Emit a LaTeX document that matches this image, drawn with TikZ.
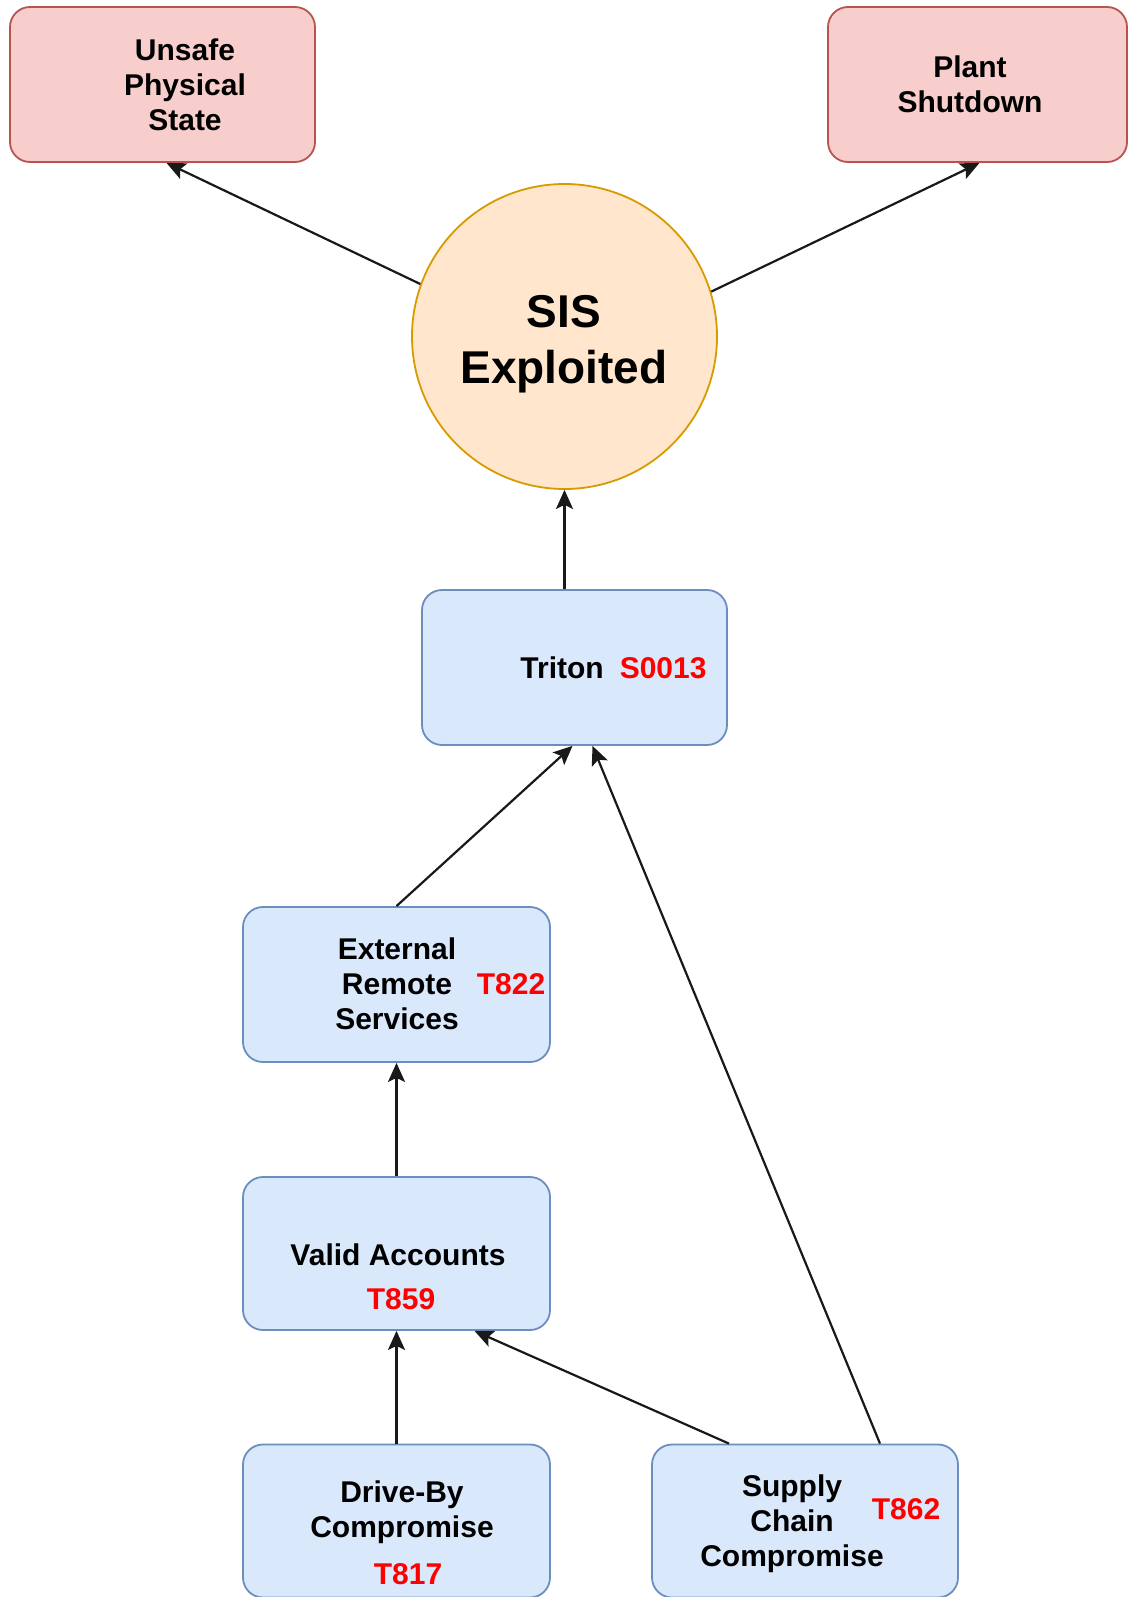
\documentclass[tikz,border=0pt]{standalone}
\usepackage{fontspec}
\setmainfont{Liberation Sans}
\usetikzlibrary{arrows.meta}
\definecolor{redfill}{HTML}{F8CECC}
\definecolor{redline}{HTML}{B85450}
\definecolor{bluefill}{HTML}{DAE8FC}
\definecolor{blueline}{HTML}{6C8EBF}
\definecolor{orfill}{HTML}{FFE6CC}
\definecolor{orline}{HTML}{D79B00}
\definecolor{idred}{HTML}{FF0000}
\begin{document}
\begin{tikzpicture}[x=1pt,y=-1pt,
  boxbase/.style={draw, rectangle, rounded corners=20pt, line width=1.8pt, inner sep=0pt},
  redbox/.style={boxbase, draw=redline, fill=redfill},
  bluebox/.style={boxbase, draw=blueline, fill=bluefill},
  lbl/.style={inner sep=0pt, align=center, font=\bfseries\fontsize{30}{35}\selectfont},
  idlbl/.style={inner sep=0pt, text=idred, font=\bfseries\fontsize{30}{35}\selectfont},
  edge/.style={draw=black!90, line width=2.2pt, -{Stealth[length=19pt,width=17pt,inset=4pt]}}
]
\useasboundingbox (0,0) rectangle (1128,1597);
\fill[white] (0,0) rectangle (1128,1597);

% boxes
\node[redbox, minimum width=305pt, minimum height=155pt] (unsafe) at (162.5,84.5) {};
\node[redbox, minimum width=299pt, minimum height=155pt] (plant) at (977.5,84.5) {};
\node[circle, draw=orline, fill=orfill, line width=1.8pt, minimum size=305pt, inner sep=0pt] (sis) at (564.5,336.5) {};
\node[bluebox, minimum width=305pt, minimum height=155pt] (triton) at (574.5,667.5) {};
\node[bluebox, minimum width=307pt, minimum height=155pt] (ext) at (396.5,984.5) {};
\node[bluebox, minimum width=307pt, minimum height=153pt] (valid) at (396.5,1253.5) {};
\node[bluebox, minimum width=307pt, minimum height=153pt] (drive) at (396.5,1521) {};
\node[bluebox, minimum width=306pt, minimum height=153pt] (supply) at (805,1521) {};

% texts
\node[lbl] (unsafeT) at (185,84.5) {Unsafe\\Physical\\State};
\node[lbl] (plantT) at (970,84) {Plant\\Shutdown};
\node[inner sep=0pt, align=center, font=\bfseries\fontsize{46}{56}\selectfont] (sisT) at (564,344) {SIS\\Exploited};
\node[lbl] (tritonT) at (613.5,667.5) {Triton\hspace{16pt}\textcolor{idred}{S0013}};
\node[lbl] (extT) at (397,983.5) {External\\Remote\\Services};
\node[idlbl] (extID) at (511,984.5) {T822};
\node[lbl] (validT) at (398,1254.5) {Valid Accounts};
\node[idlbl] (validID) at (401,1299.5) {T859};
\node[lbl] (driveT) at (402,1512) {Drive-By\\Compromise};
\node[idlbl] (driveID) at (408,1574.5) {T817};
\node[lbl] (supplyT) at (792,1523.5) {Supply\\Chain\\Compromise};
\node[idlbl] (supplyID) at (906,1509.5) {T862};

% connectors
\draw[edge] (sis.160) -- ([xshift=4pt]unsafe.south);
\draw[edge] (sis.17) -- ([xshift=2pt]plant.south);
\draw[edge] (sis.south |- triton.north) -- (sis.south);
\draw[edge] (ext.north) -- ([xshift=-2pt]triton.south);
\draw[edge] ([xshift=75pt]supply.north) -- ([xshift=18pt]triton.south);
\draw[edge] (valid.north) -- (ext.south);
\draw[edge] (drive.north) -- (valid.south);
\draw[edge] ([xshift=-76pt]supply.north) -- ([xshift=78pt]valid.south);
\end{tikzpicture}
\end{document}
